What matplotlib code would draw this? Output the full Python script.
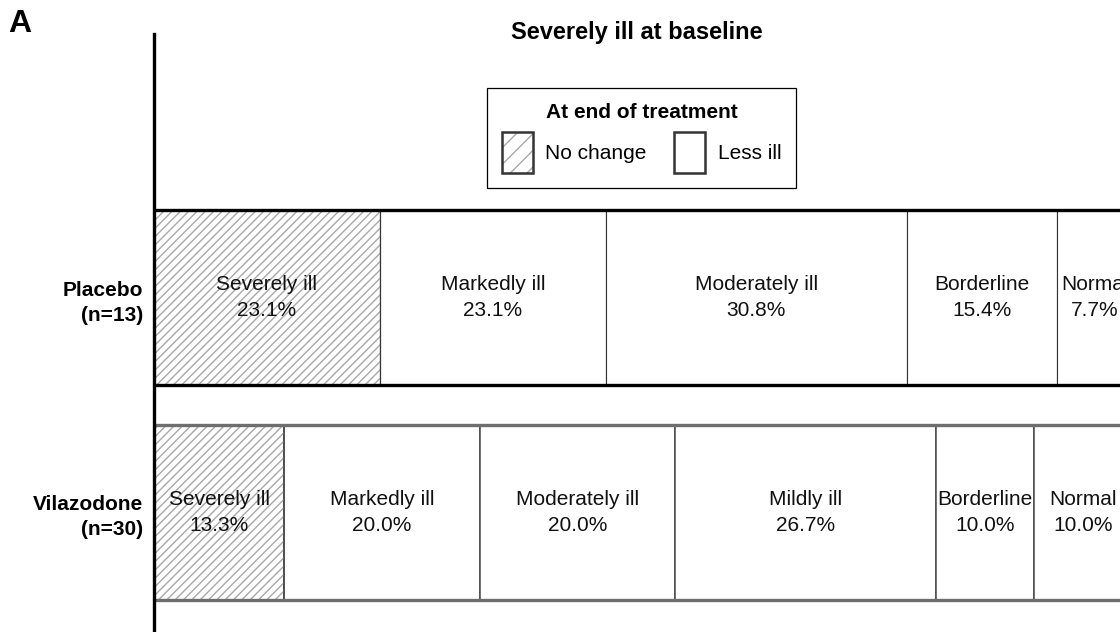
import matplotlib
matplotlib.use("Agg")
import matplotlib.pyplot as plt
from matplotlib.patches import Patch
from matplotlib.legend_handler import HandlerTuple

plt.rcParams["font.family"] = ["Liberation Sans", "DejaVu Sans"]
plt.rcParams["hatch.linewidth"] = 1.0

# ── data ──────────────────────────────────────────────────────────────────────
groups = ["Placebo\n(n=13)", "Vilazodone\n(n=30)"]
placebo_cats = ["Severely ill", "Markedly ill", "Moderately ill", "Borderline", "Normal"]
placebo_vals = [23.1, 23.1, 30.8, 15.4, 7.7]
vila_cats = ["Severely ill", "Markedly ill", "Moderately ill", "Mildly ill", "Borderline", "Normal"]
vila_vals = [13.3, 20.0, 20.0, 26.7, 10.0, 10.0]
no_change_cat = "Severely ill"

rows = [
    # (y, cats, vals, hline colour, divider colour, divider lw)
    (1, placebo_cats, placebo_vals, "black", "#333333", 0.8),
    (0, vila_cats, vila_vals, "#6e6e6e", "#4a4a4a", 1.1),
]
bar_h = 0.814
FS = 15

fig = plt.figure(figsize=(11.2, 6.32), dpi=100)
ax = fig.add_axes([154 / 1120, 0.0, 1 - 154 / 1120, 1 - 34 / 632])

for y, cats, vals, hcol, dcol, dlw in rows:
    left = 0.0
    for cat, v in zip(cats, vals):
        ax.barh(y, v, left=left, height=bar_h, color="white",
                edgecolor=dcol, linewidth=dlw, zorder=2)
        if cat == no_change_cat:
            ax.barh(y, v, left=left, height=bar_h, color="none",
                    edgecolor="#a8a8a8", linewidth=0, hatch="////", zorder=2.5)
            ax.barh(y, v, left=left, height=bar_h, fill=False,
                    edgecolor=dcol, linewidth=dlw, zorder=2.6)
        ax.text(left + v / 2, y, f"{cat}\n{v:.1f}%", ha="center", va="center",
                fontsize=FS, color="#111111", linespacing=1.5, zorder=4)
        left += v
    ax.hlines([y - bar_h / 2, y + bar_h / 2], 0, 200, colors=hcol,
              linewidth=2.4, zorder=3)

ax.set_xlim(0, 98.8)
ax.set_ylim(-0.556, 2.226)
ax.set_xticks([])
ax.set_yticks([1, 0])
ax.set_yticklabels(groups, fontsize=FS, fontweight="bold", linespacing=1.4)
ax.tick_params(axis="y", length=0, pad=8)
for s in ["top", "right", "bottom"]:
    ax.spines[s].set_visible(False)
ax.spines["left"].set_linewidth(2.4)
ax.spines["left"].set_zorder(5)

# ── legend ────────────────────────────────────────────────────────────────────
h_nc = (Patch(facecolor="white", edgecolor="#a8a8a8", hatch="//", linewidth=0),
        Patch(fill=False, edgecolor="#333333", linewidth=1.8))
h_less = Patch(facecolor="white", edgecolor="#333333", linewidth=1.8)
leg = ax.legend([h_nc, h_less], ["No change", "Less ill"], ncol=2,
                title="At end of treatment", loc="center",
                bbox_to_anchor=(0.5047, 0.826), fontsize=FS,
                title_fontproperties={"weight": "bold", "size": FS},
                handlelength=1.5, handleheight=2.65, handletextpad=0.6,
                columnspacing=1.3, fancybox=False, edgecolor="black",
                framealpha=1, borderpad=0.7,
                handler_map={tuple: HandlerTuple(ndivide=1, pad=0)})
leg.get_frame().set_linewidth(0.9)

fig.text(637 / 1120, 1 - 32 / 632, "Severely ill at baseline", ha="center",
         va="center", fontsize=17, fontweight="bold")
fig.text(8 / 1120, 1 - 24 / 632, "A", ha="left", va="center",
         fontsize=23, fontweight="bold")

fig.savefig("out.png", dpi=100)
